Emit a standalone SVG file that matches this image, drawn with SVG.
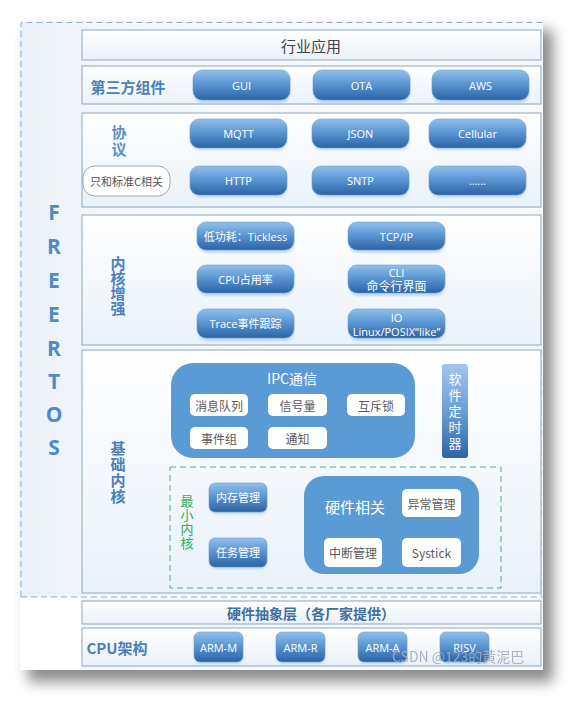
<svg xmlns="http://www.w3.org/2000/svg" width="584" height="712" viewBox="0 0 584 712">
<defs>
<linearGradient id="btn" x1="0" y1="0" x2="0" y2="1">
<stop offset="0" stop-color="#93bfea"/>
<stop offset="0.45" stop-color="#5c97d3"/>
<stop offset="1" stop-color="#2c62a5"/>
</linearGradient>
<linearGradient id="row" x1="0" y1="0" x2="0" y2="1">
<stop offset="0" stop-color="#ffffff"/>
<stop offset="1" stop-color="#e9f1f9"/>
</linearGradient>
<linearGradient id="timer" x1="0" y1="0" x2="0" y2="1">
<stop offset="0" stop-color="#a3c6ea"/>
<stop offset="0.5" stop-color="#6a9fd6"/>
<stop offset="1" stop-color="#2d64a8"/>
</linearGradient>
<linearGradient id="panel" x1="0" y1="0" x2="1" y2="0">
<stop offset="0" stop-color="#eaf0f7"/>
<stop offset="0.15" stop-color="#f3f7fb"/>
<stop offset="1" stop-color="#f6f9fc"/>
</linearGradient>
<filter id="shadow" x="-10%" y="-10%" width="130%" height="130%"><feGaussianBlur stdDeviation="7"/></filter>
<filter id="bsh" x="-10%" y="-20%" width="120%" height="160%"><feGaussianBlur stdDeviation="1.2"/></filter>
<style>
.cn{font-family:"Noto Sans CJK SC","Noto Sans",sans-serif}
.bt{fill:#ffffff;font-size:11px;text-anchor:middle;dominant-baseline:central;font-family:"Open Sans","Noto Sans CJK SC",sans-serif}
.lbl{fill:#4a80bb;font-weight:bold;font-size:15px;text-anchor:middle;dominant-baseline:central;font-family:"Noto Sans CJK SC",sans-serif}
.vl{fill:#4a80bb;font-weight:bold;font-size:15px;writing-mode:vertical-rl;text-anchor:start;dominant-baseline:central;font-family:"Noto Sans CJK SC",sans-serif}
.vw{fill:#ffffff;font-size:13px;writing-mode:vertical-rl;text-anchor:start;dominant-baseline:central;font-family:"Noto Sans CJK SC",sans-serif}
.box{fill:url(#row);stroke:#9fb4c9;stroke-width:1.2}
.b{fill:url(#btn);stroke:#6b9dd0;stroke-width:0.6}
.bs{fill:#9cc4ec;opacity:0.6;filter:url(#bsh)}
.w{fill:#ffffff}
.wt{fill:#5a5a5a;font-size:12px;text-anchor:middle;dominant-baseline:central;font-family:"Noto Sans CJK SC",sans-serif}
.dash{fill:none;stroke:#97aec4;stroke-width:1;stroke-dasharray:6 4}
.fr{font-family:"Open Sans",sans-serif;font-weight:bold;font-size:21px;fill:#4f8ac9;text-anchor:middle;dominant-baseline:central}
</style>
</defs>
<rect width="584" height="712" fill="#ffffff"/>
<rect x="28" y="30" width="525" height="652" fill="#000" opacity="0.45" filter="url(#shadow)"/>
<rect x="20" y="22" width="523" height="648" fill="url(#panel)"/>
<rect x="20" y="597" width="62" height="73" fill="#ffffff"/>
<path class="dash" d="M21 597 V22.5 H543 M21 597 H543 M541 350 V597"/>

<g id="freertos">
<text class="fr"><tspan x="54" y="212">F</tspan><tspan x="54" y="246">R</tspan><tspan x="54" y="280">E</tspan><tspan x="54" y="314">E</tspan><tspan x="54" y="348">R</tspan><tspan x="54" y="381">T</tspan><tspan x="54" y="414">O</tspan><tspan x="54" y="447">S</tspan></text>
</g>

<g id="industry">
<rect class="box" x="82" y="30" width="459" height="30"/>
<text class="cn" x="311" y="45" font-size="15" fill="#444" text-anchor="middle" dominant-baseline="central">行业应用</text>
</g>

<g id="thirdparty">
<rect class="box" x="82" y="66" width="459" height="38"/>
<text class="lbl" x="128" y="86" fill="#3f6f9f" font-size="15">第三方组件</text>
</g>
<g id="gui"><rect class="bs" x="194" y="73" width="96" height="30" rx="9"/><rect class="b" x="193" y="70" width="97" height="30" rx="9"/><text class="bt" x="241.5" y="85">GUI</text></g>
<g id="ota"><rect class="bs" x="314" y="73" width="96" height="30" rx="9"/><rect class="b" x="313" y="70" width="97" height="30" rx="9"/><text class="bt" x="361.5" y="85">OTA</text></g>
<g id="aws"><rect class="bs" x="433" y="73" width="96" height="30" rx="9"/><rect class="b" x="432" y="70" width="97" height="30" rx="9"/><text class="bt" x="480.5" y="85">AWS</text></g>

<g id="protocol">
<rect class="box" x="82" y="113" width="459" height="94"/>
<text class="vl" x="119" y="124.5" style="fill:#5a8fc8;letter-spacing:2px">协议</text>
</g>
<g id="stdc"><rect x="83" y="166" width="87" height="30" rx="12" fill="#ffffff" stroke="#8c9cab" stroke-width="0.9"/><text class="cn" x="126.5" y="181" font-size="11" fill="#555" text-anchor="middle" dominant-baseline="central">只和标准C相关</text></g>
<g id="mqtt"><rect class="bs" x="191" y="122" width="96" height="28" rx="9"/><rect class="b" x="190" y="119" width="97" height="29" rx="9"/><text class="bt" x="238.5" y="133.5">MQTT</text></g>
<g id="json"><rect class="bs" x="313" y="122" width="96" height="28" rx="9"/><rect class="b" x="312" y="119" width="97" height="29" rx="9"/><text class="bt" x="360.5" y="133.5">JSON</text></g>
<g id="cellular"><rect class="bs" x="430" y="122" width="96" height="28" rx="9"/><rect class="b" x="429" y="119" width="97" height="29" rx="9"/><text class="bt" x="477.5" y="133.5" font-size="14">Cellular</text></g>
<g id="http"><rect class="bs" x="191" y="169" width="96" height="28" rx="9"/><rect class="b" x="190" y="166" width="97" height="29" rx="9"/><text class="bt" x="238.5" y="180.5">HTTP</text></g>
<g id="sntp"><rect class="bs" x="313" y="169" width="96" height="28" rx="9"/><rect class="b" x="312" y="166" width="97" height="29" rx="9"/><text class="bt" x="360.5" y="180.5">SNTP</text></g>
<g id="more"><rect class="bs" x="430" y="169" width="96" height="28" rx="9"/><rect class="b" x="429" y="166" width="97" height="29" rx="9"/><text class="bt" x="477.5" y="180.5">……</text></g>

<g id="kernelext">
<rect class="box" x="82" y="215" width="459" height="130"/>
<text class="vl" x="118" y="255.5">内核增强</text>
</g>
<g id="tickless"><rect class="bs" x="198" y="225" width="96" height="28" rx="9"/><rect class="b" x="197" y="222" width="97" height="28" rx="9"/><text class="bt cn" x="245.5" y="236">低功耗：Tickless</text></g>
<g id="tcpip"><rect class="bs" x="349" y="225" width="96" height="28" rx="9"/><rect class="b" x="348" y="222" width="97" height="28" rx="9"/><text class="bt" x="396.5" y="236">TCP/IP</text></g>
<g id="cpuuse"><rect class="bs" x="198" y="268" width="96" height="28" rx="9"/><rect class="b" x="197" y="265" width="97" height="28" rx="9"/><text class="bt cn" x="245.5" y="279">CPU占用率</text></g>
<g id="cli"><rect class="bs" x="349" y="268" width="96" height="28" rx="9"/><rect class="b" x="348" y="265" width="97" height="28" rx="9"/><text class="bt cn"><tspan x="396.5" y="272">CLI</tspan><tspan x="396.5" y="286" font-size="12">命令行界面</tspan></text></g>
<g id="trace"><rect class="bs" x="198" y="312" width="96" height="29" rx="9"/><rect class="b" x="197" y="309" width="97" height="29" rx="9"/><text class="bt cn" x="245.5" y="323.5">Trace事件跟踪</text></g>
<g id="io"><rect class="bs" x="349" y="312" width="96" height="29" rx="9"/><rect class="b" x="348" y="309" width="97" height="29" rx="9"/><text class="bt"><tspan x="396.5" y="316.5">IO</tspan><tspan x="396.5" y="330.5">Linux/POSIX“like”</tspan></text></g>

<g id="basekernel">
<rect class="box" x="82" y="350" width="459" height="243"/>
<text class="vl" x="118" y="440.5" style="letter-spacing:1px">基础内核</text>
</g>
<g id="ipc">
<rect x="171" y="363" width="244" height="95" rx="22" fill="#5b9bd5"/>
<text class="cn" x="292" y="378" font-size="14" fill="#fff" text-anchor="middle" dominant-baseline="central">IPC通信</text>
<rect class="w" x="190" y="394" width="58" height="22" rx="5"/><text class="wt" x="219" y="405">消息队列</text>
<rect class="w" x="268" y="394" width="59" height="22" rx="5"/><text class="wt" x="297.5" y="405">信号量</text>
<rect class="w" x="347" y="394" width="58" height="22" rx="5"/><text class="wt" x="376" y="405">互斥锁</text>
<rect class="w" x="190" y="427" width="58" height="22" rx="5"/><text class="wt" x="219" y="438">事件组</text>
<rect class="w" x="268" y="427" width="59" height="22" rx="5"/><text class="wt" x="297.5" y="438">通知</text>
</g>
<g id="timer">
<rect x="442" y="364" width="26" height="94" rx="3" fill="url(#timer)"/>
<text class="vw" x="455" y="372.5" style="letter-spacing:3px">软件定时器</text>
</g>
<g id="minkernel">
<rect x="170" y="467" width="331" height="121" fill="none" stroke="#52b07a" stroke-width="1" stroke-dasharray="6 4"/>
<text class="vw" x="187" y="494.5" style="fill:#2fae55;letter-spacing:1px">最小内核</text>
</g>
<g id="memmgr"><rect class="bs" x="210" y="486" width="57" height="28" rx="6"/><rect class="b" x="209" y="483" width="58" height="29" rx="6"/><text class="bt cn" x="238" y="497.5" font-size="12">内存管理</text></g>
<g id="taskmgr"><rect class="bs" x="210" y="541" width="57" height="28" rx="6"/><rect class="b" x="209" y="538" width="58" height="29" rx="6"/><text class="bt cn" x="238" y="552.5" font-size="12">任务管理</text></g>
<g id="hw">
<rect x="304" y="476" width="175" height="98" rx="20" fill="#5b9bd5"/>
<text class="cn" x="355" y="506" font-size="15" fill="#fff" text-anchor="middle" dominant-baseline="central">硬件相关</text>
<rect class="w" x="402" y="489" width="59" height="28" rx="5"/><text class="wt" x="431.5" y="503">异常管理</text>
<rect class="w" x="324" y="538" width="58" height="29" rx="5"/><text class="wt" x="353" y="552.5">中断管理</text>
<rect class="w" x="402" y="538" width="59" height="29" rx="5"/><text class="wt" x="431.5" y="552.5" font-family="Open Sans,sans-serif" font-size="11">Systick</text>
</g>

<g id="hal">
<rect class="box" x="82" y="601" width="459" height="23"/>
<text x="311" y="612.5" font-family="Noto Sans CJK SC,sans-serif" font-weight="bold" font-size="14" fill="#3f6f9f" text-anchor="middle" dominant-baseline="central">硬件抽象层（各厂家提供）</text>
</g>
<g id="cpuarch">
<rect class="box" x="82" y="628" width="459" height="38"/>
<text class="lbl" x="117" y="647" fill="#3f6f9f">CPU架构</text>
</g>
<g id="armm"><rect class="bs" x="195" y="635" width="48" height="29" rx="6"/><rect class="b" x="194" y="632" width="49" height="30" rx="6"/><text class="bt" x="218.5" y="647">ARM-M</text></g>
<g id="armr"><rect class="bs" x="277" y="635" width="48" height="29" rx="6"/><rect class="b" x="276" y="632" width="49" height="30" rx="6"/><text class="bt" x="300.5" y="647">ARM-R</text></g>
<g id="arma"><rect class="bs" x="359" y="635" width="48" height="29" rx="6"/><rect class="b" x="358" y="632" width="49" height="30" rx="6"/><text class="bt" x="382.5" y="647">ARM-A</text></g>
<g id="risv"><rect class="bs" x="441" y="635" width="48" height="29" rx="6"/><rect class="b" x="440" y="632" width="49" height="30" rx="6"/><text class="bt" x="464.5" y="647">RISV</text></g>

<text x="392" y="662" font-family="Noto Sans CJK SC,sans-serif" font-size="14" fill="#a4adb8" opacity="0.9">CSDN @123的黄泥巴</text>
</svg>
